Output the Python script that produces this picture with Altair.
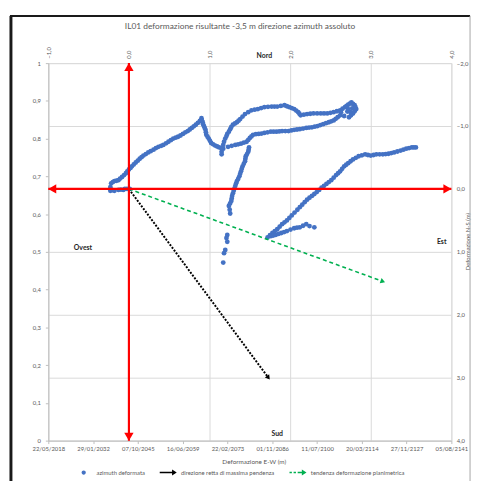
import altair as alt
import pandas as pd

TITLE = "IL01 deformazione risultante -3,5 m direzione azimuth assoluto"
SERIES = ["azimuth deformata", "direzione retta di massima pendenza", "tendenza deformazione planimetrica"]
COLORS = ["#4472C4", "#000000", "#00B050"]

EW_TICKS = [-1, 0, 1, 2, 3, 4]
NS_TICKS = [-2, -1, 0, 1, 2, 3, 4]
LEFT_TICKS = [0, 0.1, 0.2, 0.3, 0.4, 0.5, 0.6, 0.7, 0.8, 0.9, 1]
DATE_LABELS = ["22/05/2018", "29/01/2032", "07/10/2045", "16/06/2059", "22/02/2073",
               "01/11/2086", "11/07/2100", "20/03/2114", "27/11/2127", "05/08/2141"]
X_TITLE = "Deformazione E-W (m)"
Y_TITLE = "Deformazione N-S (m)"

# blue points (E-W, N-S), per stretch of the trace
seg_a_ew = [-0.23, -0.23, -0.22, -0.18, -0.13, -0.085, -0.037, 0.0, 0.037, 0.085, 0.134, 0.18, 0.24,
            0.305, 0.366, 0.427, 0.49, 0.55, 0.61, 0.67, 0.73, 0.78, 0.83, 0.88, 0.90,
            -0.18, -0.13, -0.07, -0.024, 0.01,
            -0.20, -0.155, -0.11, -0.06, -0.02, 0.02, 0.06, 0.11, 0.157, 0.21, 0.27, 0.335, 0.40,
            0.46, 0.52, 0.58, 0.64, 0.70, 0.755, 0.805, 0.855, -0.20, -0.23, -0.10, -0.05]
seg_a_ns = [0.03, -0.03, -0.09, -0.125, -0.14, -0.19, -0.25, -0.31, -0.36, -0.42, -0.48, -0.53, -0.58,
            -0.625, -0.67, -0.70, -0.75, -0.80, -0.83, -0.875, -0.92, -0.97, -1.02, -1.08, -1.125,
            0.03, 0.015, 0.015, 0.0, 0.0,
            -0.11, -0.13, -0.165, -0.22, -0.28, -0.335, -0.39, -0.45, -0.505, -0.555, -0.60, -0.65, -0.685,
            -0.725, -0.775, -0.815, -0.85, -0.90, -0.945, -0.995, -1.05, 0.02, 0.0, 0.01, 0.0]
seg_b_ew = [0.915, 0.93, 0.95, 0.96, 0.99, 1.02, 1.07, 1.12, 1.17, 1.15, 1.15,
            0.905, 0.92, 0.94, 0.955, 0.975, 1.005, 1.045, 1.095, 1.145]
seg_b_ns = [-1.06, -1.0, -0.94, -0.86, -0.80, -0.73, -0.69, -0.66, -0.64, -0.59, -0.55,
            -1.09, -1.03, -0.97, -0.90, -0.83, -0.765, -0.71, -0.675, -0.65]
seg_c_ew = [1.17, 1.195, 1.22, 1.256, 1.29, 1.34, 1.38, 1.44, 1.52, 1.60, 1.68, 1.77, 1.84, 1.93, 1.99,
            2.05, 2.10, 2.13, 2.21, 2.29, 2.38, 2.46, 2.54, 2.62, 2.68, 2.72, 2.76, 2.80, 2.82, 2.78,
            2.73, 2.67, 2.63, 2.77, 2.71,
            1.18, 1.21, 1.24, 1.27, 1.315, 1.36, 1.41, 1.48, 1.56, 1.64, 1.725, 1.805, 1.885, 1.96,
            2.02, 2.075, 2.115, 2.17, 2.25, 2.335, 2.42, 2.50, 2.58, 2.65, 2.70, 2.74, 2.78, 2.81,
            2.80, 2.755, 2.75, 2.72]
seg_c_ns = [-0.70, -0.80, -0.875, -0.95, -1.02, -1.06, -1.11, -1.19, -1.25, -1.27, -1.30, -1.31, -1.31,
            -1.33, -1.30, -1.27, -1.22, -1.17, -1.19, -1.20, -1.20, -1.20, -1.22, -1.25, -1.30, -1.34,
            -1.375, -1.33, -1.27, -1.20, -1.14, -1.16, -1.22, -1.28, -1.23,
            -0.75, -0.84, -0.91, -0.985, -1.04, -1.085, -1.15, -1.22, -1.26, -1.285, -1.305, -1.31,
            -1.32, -1.315, -1.285, -1.245, -1.195, -1.18, -1.195, -1.20, -1.20, -1.21, -1.235, -1.275,
            -1.32, -1.355, -1.35, -1.30, -1.235, -1.17, -1.22, -1.27]
seg_d_ew = [1.23, 1.32, 1.39, 1.46, 1.50, 1.54, 1.61, 1.68, 1.76, 1.83, 1.90, 1.98, 2.05, 2.12, 2.20,
            2.27, 2.34, 2.41, 2.48, 2.54, 2.59,
            1.275, 1.355, 1.425, 1.48, 1.52, 1.575, 1.645, 1.72, 1.795, 1.865, 1.94, 2.015, 2.085,
            2.16, 2.235, 2.305, 2.375, 2.445, 2.51, 2.565, 2.62]
seg_d_ns = [-0.67, -0.70, -0.72, -0.75, -0.81, -0.86, -0.875, -0.89, -0.91, -0.91, -0.92, -0.92, -0.94,
            -0.95, -0.97, -0.98, -1.0, -1.03, -1.06, -1.09, -1.14,
            -0.685, -0.71, -0.735, -0.78, -0.835, -0.87, -0.88, -0.90, -0.91, -0.915, -0.92, -0.93,
            -0.945, -0.96, -0.975, -0.99, -1.015, -1.045, -1.075, -1.115, -1.17]
seg_e_ew = [1.49, 1.48, 1.45, 1.44, 1.41, 1.39, 1.37, 1.34, 1.32, 1.30, 1.28, 1.27, 1.24, 1.256, 1.22,
            1.21, 1.22, 1.195, 1.18, 1.17,
            1.485, 1.465, 1.445, 1.425, 1.40, 1.38, 1.355, 1.33, 1.31, 1.29, 1.275, 1.255, 1.25]
seg_e_ns = [-0.66, -0.59, -0.52, -0.44, -0.36, -0.28, -0.20, -0.125, -0.05, 0.03, 0.11, 0.19, 0.27,
            0.39, 0.73, 0.78, 0.84, 0.97, 1.02, 1.17,
            -0.625, -0.555, -0.48, -0.40, -0.32, -0.24, -0.16, -0.09, -0.01, 0.07, 0.15, 0.23, 0.33]
seg_f_ew = [1.72, 1.78, 1.84, 1.90, 1.96, 2.02, 2.09, 2.15, 2.21, 2.27, 2.33, 2.39, 2.45, 2.51, 2.57,
            2.62, 2.67, 2.72, 2.78, 2.85, 2.93, 3.0, 3.07, 3.15, 3.22, 3.29, 3.37, 3.44, 3.51, 3.56,
            1.75, 1.81, 1.87, 1.93, 1.99, 2.055, 2.12, 2.18, 2.24, 2.30, 2.36, 2.42, 2.48, 2.54,
            2.595, 2.645, 2.695, 2.75, 2.815, 2.89, 2.965, 3.035, 3.11, 3.185, 3.255, 3.33, 3.405,
            3.475, 3.535]
seg_f_ns = [0.77, 0.70, 0.64, 0.56, 0.50, 0.42, 0.33, 0.25, 0.17, 0.11, 0.05, -0.02, -0.08, -0.14,
            -0.22, -0.28, -0.36, -0.41, -0.47, -0.52, -0.55, -0.53, -0.55, -0.55, -0.56, -0.58, -0.61,
            -0.64, -0.66, -0.66,
            0.735, 0.67, 0.60, 0.53, 0.46, 0.375, 0.29, 0.21, 0.14, 0.08, 0.015, -0.05, -0.11, -0.18,
            -0.25, -0.32, -0.385, -0.44, -0.495, -0.535, -0.54, -0.54, -0.55, -0.555, -0.57, -0.595,
            -0.625, -0.65, -0.66]
seg_g_ew = [1.76, 1.82, 1.89, 1.96, 2.05, 2.12, 2.20, 2.24, 2.30,
            1.79, 1.855, 1.925, 2.005, 2.085, 2.16]
seg_g_ns = [0.75, 0.73, 0.70, 0.67, 0.625, 0.61, 0.56, 0.59, 0.61,
            0.74, 0.715, 0.685, 0.645, 0.615, 0.585]

# arrows from the origin
max_slope_ew = [0, 1.73]
max_slope_ns = [0, 3.0]
trend_ew = [0, 3.15]
trend_ns = [0, 1.47]

# compass labels
COMPASS = ["Nord", "Sud", "Est", "Ovest"]
COMPASS_EW = [1.68, 1.84, 3.88, -0.57]
COMPASS_NS = [-2.11, 3.9, 0.84, 0.94]

FONT = "Lato"
GREY = "#595959"
GRID = "#d9d9d9"
RED = "#FF0000"

pts = pd.DataFrame({
    "ew": seg_a_ew + seg_b_ew + seg_c_ew + seg_d_ew + seg_e_ew + seg_f_ew + seg_g_ew,
    "ns": seg_a_ns + seg_b_ns + seg_c_ns + seg_d_ns + seg_e_ns + seg_f_ns + seg_g_ns,
})
black = pd.DataFrame({"ew": max_slope_ew, "ns": max_slope_ns, "o": [0, 1]})
green = pd.DataFrame({"ew": trend_ew, "ns": trend_ns, "o": [0, 1]})
compass = pd.DataFrame({"t": COMPASS, "ew": COMPASS_EW, "ns": COMPASS_NS})

xs = alt.Scale(domain=[EW_TICKS[0], EW_TICKS[-1]], nice=False, zero=False)
ys = alt.Scale(domain=[NS_TICKS[0], NS_TICKS[-1]], nice=False, zero=False, reverse=True)

comma1 = "replace(format(datum.value, '.1f'), '.', ',')"

x_top = alt.Axis(orient="top", values=EW_TICKS, labelExpr=comma1, labelAngle=270,
                 grid=True, gridColor=GRID, ticks=False, domain=False,
                 labelFontSize=6, labelColor=GREY, labelFont=FONT, labelPadding=5, title=None)
y_right = alt.Axis(orient="right", values=NS_TICKS, labelExpr=comma1,
                   grid=True, gridColor=GRID, ticks=False, domain=False,
                   labelFontSize=6, labelColor=GREY, labelFont=FONT, labelPadding=5,
                   title=Y_TITLE, titleAngle=270, titleFontSize=6, titleFont=FONT,
                   titleFontWeight="normal", titleColor=GREY, titleX=16, titleY=181,
                   titleAlign="center", titleBaseline="middle")


def X(field):
    return alt.X(field, scale=xs, axis=x_top)


def Y(field):
    return alt.Y(field, scale=ys, axis=y_right)


points = alt.Chart(pts).mark_circle(size=24, opacity=1, color=COLORS[0]).encode(
    x=X("ew:Q"), y=Y("ns:Q"))

red_h = alt.Chart(pd.DataFrame({"ew": [EW_TICKS[0]], "b": [EW_TICKS[-1]], "ns": [0]})).mark_rule(
    color=RED, strokeWidth=2.2).encode(x=X("ew:Q"), x2="b:Q", y=Y("ns:Q"))
red_v = alt.Chart(pd.DataFrame({"ns": [NS_TICKS[0]], "b": [NS_TICKS[-1]], "ew": [0]})).mark_rule(
    color=RED, strokeWidth=2.2).encode(y=Y("ns:Q"), y2="b:Q", x=X("ew:Q"))


def head(ew, ns, shape, color, size, dx=0, dy=0, angle=0):
    return alt.Chart(pd.DataFrame({"ew": [ew], "ns": [ns]})).mark_point(
        shape=shape, filled=True, opacity=1, color=color, size=size,
        xOffset=dx, yOffset=dy, angle=angle, strokeWidth=0).encode(x=X("ew:Q"), y=Y("ns:Q"))


heads = [
    head(EW_TICKS[-1], 0, "triangle-right", RED, 90, dx=-4),
    head(EW_TICKS[0], 0, "triangle-left", RED, 90, dx=4),
    head(0, NS_TICKS[0], "triangle-up", RED, 90, dy=4),
    head(0, NS_TICKS[-1], "triangle-down", RED, 90, dy=-4),
    head(max_slope_ew[1], max_slope_ns[1], "triangle-right", COLORS[1], 30, angle=53.5),
    head(trend_ew[1], trend_ns[1], "triangle-right", COLORS[2], 30, angle=20),
]

black_line = alt.Chart(black).mark_line(color=COLORS[1], strokeWidth=2, strokeDash=[2, 1.5]).encode(
    x=X("ew:Q"), y=Y("ns:Q"), order="o:Q")
green_line = alt.Chart(green).mark_line(color=COLORS[2], strokeWidth=1.6, strokeDash=[4, 3]).encode(
    x=X("ew:Q"), y=Y("ns:Q"), order="o:Q")

texts = alt.Chart(compass).mark_text(font=FONT, fontSize=7, fontWeight="bold", color="#262626").encode(
    x=X("ew:Q"), y=Y("ns:Q"), text="t:N")

frame_src = alt.Chart(pd.DataFrame({"k": [0]}))
frame = [
    frame_src.mark_rule(color="#1a1a1a", strokeWidth=3).encode(
        x=alt.value(-38), y=alt.value(-48), y2=alt.value(430)),
    frame_src.mark_rule(color="#1a1a1a", strokeWidth=2).encode(
        x=alt.value(-39), x2=alt.value(429), y=alt.value(-48)),
    frame_src.mark_rule(color="#a6a6a6", strokeWidth=1).encode(
        x=alt.value(429), y=alt.value(-48), y2=alt.value(430)),
]

main = alt.layer(points, green_line, black_line, red_h, red_v, *heads, texts, *frame)

# secondary (left / bottom) axes and legend
date_expr = "[" + ",".join("'" + d + "'" for d in DATE_LABELS) + "][datum.value]"
x_bottom = alt.Axis(orient="bottom", values=list(range(len(DATE_LABELS))), labelExpr=date_expr,
                    grid=False, ticks=True, tickSize=3, tickColor="#bfbfbf", domain=True,
                    domainColor="#bfbfbf", labelFontSize=6, labelColor=GREY, labelFont=FONT,
                    labelPadding=2, labelFlush=False, title=X_TITLE, titleFontSize=6.5,
                    titleFont=FONT, titleFontWeight="normal", titleColor=GREY,
                    titleX=209, titleY=21, titleAlign="center", titleBaseline="middle")
y_left = alt.Axis(orient="left", values=LEFT_TICKS,
                  labelExpr="replace(format(datum.value, '~g'), '.', ',')",
                  grid=False, ticks=True, tickSize=3, tickColor="#bfbfbf", domain=True,
                  domainColor="#bfbfbf", labelFontSize=6, labelColor=GREY, labelFont=FONT,
                  labelPadding=5, labelFlush=False, title=None)

P_CIRCLE = "M-0.25,0A0.25,0.25 0 1,0 0.25,0A0.25,0.25 0 1,0 -0.25,0Z"
P_ARROW = "M-1,-0.09L0.45,-0.09L0.45,-0.35L1,0L0.45,0.35L0.45,0.09L-1,0.09Z"
P_DASHED = ("M-1,-0.09L-0.72,-0.09L-0.72,0.09L-1,0.09Z M-0.52,-0.09L-0.24,-0.09L-0.24,0.09L-0.52,0.09Z "
            "M-0.04,-0.09L0.45,-0.09L0.45,-0.35L1,0L0.45,0.35L0.45,0.09L-0.04,0.09Z")

leg = alt.Legend(orient="none", legendX=27, legendY=407, direction="horizontal", columns=3,
                 title=None, symbolSize=300, symbolOpacity=1, symbolStrokeWidth=0,
                 labelFontSize=6, labelColor=GREY, labelFont=FONT, labelOffset=4,
                 columnPadding=14, padding=0, labelLimit=300)

legend_df = pd.DataFrame({"serie": SERIES, "xd": [0, 0, 0], "yd": [0, 0, 0]})
carrier = alt.Chart(legend_df).mark_point(filled=True, opacity=0).encode(
    x=alt.X("xd:Q", scale=alt.Scale(domain=[0, len(DATE_LABELS) - 1], nice=False), axis=x_bottom),
    y=alt.Y("yd:Q", scale=alt.Scale(domain=[0, 1], nice=False), axis=y_left),
    color=alt.Color("serie:N", scale=alt.Scale(domain=SERIES, range=COLORS), legend=leg),
    shape=alt.Shape("serie:N", scale=alt.Scale(domain=SERIES, range=[P_CIRCLE, P_ARROW, P_DASHED]), legend=leg),
)

chart = alt.layer(main, carrier).resolve_scale(x="independent", y="independent").properties(
    width=410, height=384,
    padding={"left": 41, "top": 52, "right": 22, "bottom": 37},
    autosize=alt.AutoSizeParams(type="none"),
    title=alt.TitleParams(text=TITLE, fontSize=8.5, font=FONT, color=GREY, fontWeight="normal",
                          anchor="middle", frame="group", offset=-16, dx=-10),
).configure_view(stroke=GRID).configure(background="white")

chart.save("out.html", embed_options={"renderer": "svg", "actions": False})
